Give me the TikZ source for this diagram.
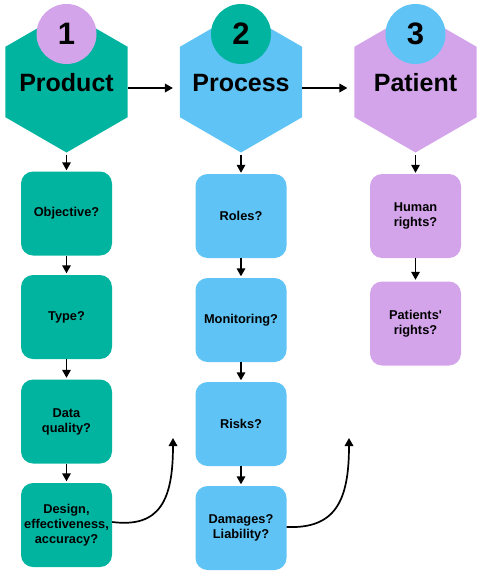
\documentclass[tikz,border=0pt]{standalone}
\usepackage{fontspec}
\setmainfont{Liberation Sans}[Ligatures=TeXOff]
\usetikzlibrary{shapes.geometric,arrows.meta}
\definecolor{cteal}{RGB}{0,180,160}
\definecolor{cblue}{RGB}{95,196,245}
\definecolor{cpurp}{RGB}{212,164,235}
\begin{document}
\begin{tikzpicture}[x=1pt,y=-1pt,
  hexa/.style={regular polygon,regular polygon sides=6,regular polygon rotate=30,minimum size=141pt,inner sep=0pt,outer sep=0pt},
  title/.style={inner sep=0pt,font=\fontsize{25}{28}\selectfont\bfseries},
  numc/.style={circle,minimum size=60pt,inner sep=0pt,font=\fontsize{31}{34}\selectfont\bfseries},
  qbox/.style={rounded corners=12pt,minimum width=91pt,minimum height=84pt,inner sep=0pt,align=center,font=\fontsize{12.8}{15}\selectfont\bfseries},
  arr/.style={line width=1.7pt,-{Triangle[length=8pt,width=8.5pt]}},
]
\useasboundingbox (0,0) rectangle (484,576);
% hexagons
\node[hexa,fill=cteal] (h1) at (66.5,82) {};
\node[hexa,fill=cblue] (h2) at (241,82) {};
\node[hexa,fill=cpurp] (h3) at (415.5,82) {};
\node[title] (t1) at (66.5,83) {Product};
\node[title] (t2) at (241,83) {Process};
\node[title] (t3) at (415.5,83) {Patient};
\node[numc,fill=cpurp] (n1) at (66.5,34) {1};
\node[numc,fill=cteal] (n2) at (241,34) {2};
\node[numc,fill=cblue] (n3) at (415.5,34) {3};
% column 1
\node[qbox,fill=cteal] (a1) at (66.5,213.5) {Objective?};
\node[qbox,fill=cteal] (a2) at (66.5,317) {Type?};
\node[qbox,fill=cteal] (a3) at (66.5,421.5) {Data\\quality?};
\node[qbox,fill=cteal] (a4) at (66.5,525) {Design,\\effectiveness,\\accuracy?};
% column 2
\node[qbox,fill=cblue] (b1) at (241,216) {Roles?};
\node[qbox,fill=cblue] (b2) at (241,320) {Monitoring?};
\node[qbox,fill=cblue] (b3) at (241,424) {Risks?};
\node[qbox,fill=cblue] (b4) at (241,528) {Damages?\\Liability?};
% column 3
\node[qbox,fill=cpurp] (c1) at (415.5,216) {Human\\rights?};
\node[qbox,fill=cpurp] (c2) at (415.5,323.5) {Patients'\\rights?};
% horizontal arrows
\draw[arr,shorten >=7pt] ([yshift=-6pt]h1.east) -- ([yshift=-6pt]h2.west);
\draw[arr,shorten >=7pt] ([yshift=-6pt]h2.east) -- ([yshift=-6pt]h3.west);
% vertical arrows
\draw[arr,shorten <=2pt,shorten >=1pt] (h1.south) -- (a1.north);
\draw[arr,shorten >=1.5pt] (a1) -- (a2);
\draw[arr,shorten >=1.5pt] (a2) -- (a3);
\draw[arr,shorten >=1.5pt] (a3) -- (a4);
\draw[arr,shorten <=2pt,shorten >=1pt] (h2.south) -- (b1.north);
\draw[arr,shorten >=1.5pt] (b1) -- (b2);
\draw[arr,shorten >=1.5pt] (b2) -- (b3);
\draw[arr,shorten >=1.5pt] (b3) -- (b4);
\draw[arr,shorten <=2pt,shorten >=1pt] (h3.south) -- (c1.north);
\draw[arr,shorten >=1.5pt] (c1) -- (c2);
% curved arrows
\coordinate (e1) at (173,438);
\coordinate (e2) at (349,438);
\draw[arr] ([yshift=3pt]a4.east) .. controls (160,528) and (173,500) .. (e1);
\draw[arr] ([yshift=1pt]b4.east) .. controls (336,529) and (349,500) .. (e2);
\end{tikzpicture}
\end{document}
